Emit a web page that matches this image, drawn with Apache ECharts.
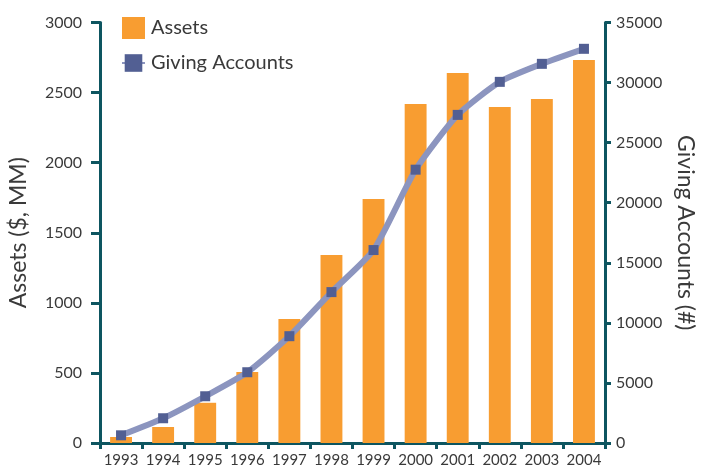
<!DOCTYPE html>
<html>
<head>
<meta charset="utf-8">
<script src="https://cdn.jsdelivr.net/npm/echarts@6/dist/echarts.min.js"></script>
<style>
  html, body { margin: 0; padding: 0; background: #fff; }
  #chart { width: 705px; height: 470px; }
</style>
</head>
<body>
<div id="chart"></div>
<script>
// data
const years = ['1993','1994','1995','1996','1997','1998','1999','2000','2001','2002','2003','2004']
const assets = [43, 114, 287, 506, 884, 1341, 1740, 2418, 2639, 2397, 2454, 2732]
const givingAccounts = [640, 2060, 3890, 5890, 8890, 12560, 16060, 22750, 27310, 30060, 31560, 32810]

const axisColor = '#0d5560'
const textColor = '#3a3a3a'
const font = 'Lato'
const plain = v => String(v)

let chart = echarts.init(document.getElementById('chart'), null, {renderer: 'canvas'})
chart.setOption({
  backgroundColor: '#fff',
  animation: false,
  textStyle: {fontFamily: font},
  grid: {left: 100, right: 100, top: 22.5, bottom: 27, containLabel: false, outerBoundsMode: 'none'},
  legend: {
    orient: 'vertical',
    left: 116,
    top: 12,
    itemGap: 14,
    itemWidth: 23,
    itemHeight: 22,
    textStyle: {fontFamily: font, fontSize: 20, color: textColor, padding: [0, 0, 0, 1]},
    data: [{name: 'Assets', icon: 'rect'}, {name: 'Giving Accounts'}]
  },
  xAxis: {
    type: 'category',
    data: years,
    boundaryGap: true,
    axisLine: {lineStyle: {color: axisColor, width: 3}},
    axisTick: {show: true, length: 6, interval: 0, lineStyle: {color: axisColor, width: 3}},
    axisLabel: {color: textColor, fontSize: 15, fontFamily: font, margin: 10, interval: 0}
  },
  yAxis: [
    {
      type: 'value',
      min: 0, max: 3000, interval: 500,
      name: 'Assets ($, MM)',
      nameLocation: 'middle',
      nameGap: 70,
      nameTextStyle: {color: textColor, fontSize: 23, fontFamily: font},
      axisLine: {show: true, lineStyle: {color: axisColor, width: 3}},
      axisTick: {show: true, length: 9, lineStyle: {color: axisColor, width: 3}},
      axisLabel: {color: textColor, fontSize: 16, fontFamily: font, margin: 18, formatter: plain},
      splitLine: {show: false}
    },
    {
      type: 'value',
      position: 'right',
      min: 0, max: 35000, interval: 5000,
      name: 'Giving Accounts (#)',
      nameLocation: 'middle',
      nameRotate: -90,
      nameGap: 69,
      nameTextStyle: {color: textColor, fontSize: 23, fontFamily: font},
      axisLine: {show: true, lineStyle: {color: axisColor, width: 3}},
      axisTick: {show: true, length: 6, lineStyle: {color: axisColor, width: 3}},
      axisLabel: {color: textColor, fontSize: 16, fontFamily: font, margin: 11, formatter: plain},
      splitLine: {show: false}
    }
  ],
  series: [
    {
      name: 'Assets',
      type: 'bar',
      data: assets,
      barWidth: '52%',
      itemStyle: {color: '#f89d31'}
    },
    {
      name: 'Giving Accounts',
      type: 'line',
      yAxisIndex: 1,
      data: givingAccounts,
      smooth: 0.2,
      symbol: 'rect',
      symbolSize: 10,
      lineStyle: {color: '#8c95bf', width: 6},
      itemStyle: {color: '#525f93', borderWidth: 0}
    }
  ]
})
</script>
</body>
</html>
